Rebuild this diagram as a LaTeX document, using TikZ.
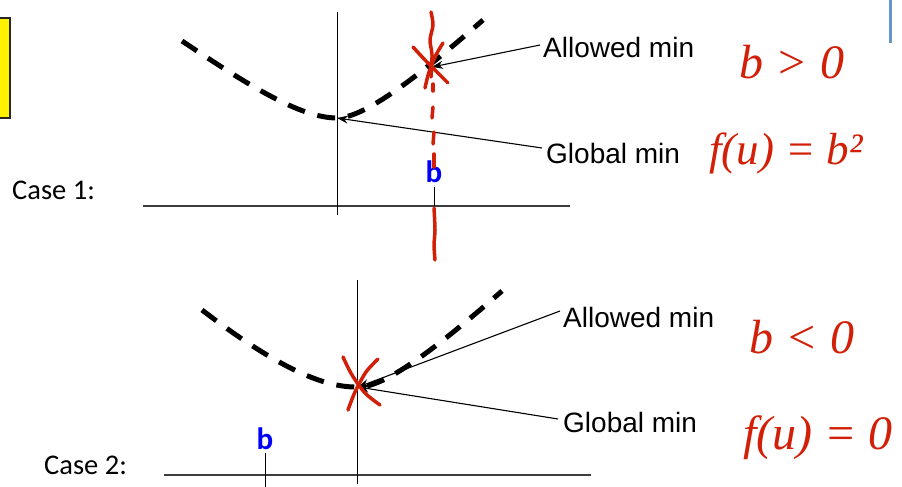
\documentclass[tikz,border=0pt]{standalone}
\usepackage{fontspec}
\setmainfont{Liberation Sans}
\newfontfamily\calib{Carlito}
\newfontfamily\inkfont{Liberation Serif}
\usetikzlibrary{arrows.meta}
\definecolor{inkred}{RGB}{210,32,8}
\definecolor{axisgray}{RGB}{60,60,60}
\definecolor{barblue}{RGB}{100,149,205}
\definecolor{bblue}{RGB}{0,0,250}
\tikzset{
  curvedash/.style={line width=5pt, dash pattern=on 18pt off 13pt, black},
  axisline/.style={line width=1.2pt, axisgray},
  lbl/.style={anchor=west, inner sep=0pt, font=\fontsize{28}{34}\selectfont},
  caselbl/.style={anchor=west, inner sep=0pt, font=\calib\fontsize{28.5}{34}\selectfont},
  blbl/.style={inner sep=0pt, text=bblue, font=\calib\bfseries\fontsize{31}{36}\selectfont},
  pointer/.style={line width=1.1pt, black, -{Stealth[length=11pt,width=8pt]}},
  inkstroke/.style={line width=3.5pt, inkred, line cap=round, line join=round},
  inktext/.style={inner sep=0pt, text=inkred, font=\inkfont\itshape\fontsize{48}{54}\selectfont},
}
\begin{document}
\begin{tikzpicture}[x=1pt,y=-1pt]
\useasboundingbox (0,0) rectangle (902,487);
% yellow box and blue bar
\draw[fill=yellow, line width=1.5pt, draw=black!85] (-3,18) rectangle (10,118);
\draw[line width=3pt, barblue] (890,0) -- (890,43);

% ---------------- Case 1 ----------------
\node[caselbl] (case1) at (12,190) {Case 1:};
\coordinate (h1a) at (143,206);
\coordinate (h1b) at (570,206);
\coordinate (v1a) at (337.5,12);
\coordinate (v1b) at (337.5,215);
\draw[axisline] (h1a) -- (h1b);
\draw[line width=1pt] (v1a) -- (v1b);
\coordinate (b1top) at (434,187);
\coordinate (b1bot) at (434,206);
\draw[line width=1pt] (b1top) -- (b1bot);
\node[blbl] (b1) at (434,172) {b};

\coordinate (c1s) at (182,41);
\coordinate (c1m) at (337,118);
\coordinate (c1e) at (483,20);
\coordinate (x1) at (432,67);
\draw[curvedash] (c1s) .. controls (248,85) and (300,118) .. (c1m)
                 .. controls (365,118) and (420,75) .. (c1e);

\node[lbl] (allow1) at (543,47) {Allowed min};
\node[lbl] (glob1) at (546,153) {Global min};
\draw[pointer] (allow1.west) ++(-3,-2) coordinate (a1s) (a1s) -- (x1);
\draw[pointer] (glob1.west) ++(-4,-5) coordinate (g1s) (g1s) -- (c1m);

% red ink case 1
\draw[inkstroke] plot[smooth] coordinates {(431,12) (433,25) (430,40) (432,55) (431,77)};
\draw[inkstroke] (433,84) -- (433,91);
\draw[inkstroke] (433,107) -- (432,118);
\draw[inkstroke] (434,132) -- (433,144);
\draw[inkstroke] (434,154) -- (434,167);
\draw[inkstroke] plot[smooth] coordinates {(434,208) (435,230) (434,245) (435,260)};
\draw[inkstroke] plot[smooth] coordinates {(413,47) (425,60) (437,72) (448,83)};
\draw[inkstroke] plot[smooth] coordinates {(443,43) (436,55) (429,72) (425,88)};
\node[inktext] (r1) at (792,62) {b > 0};
\node[inktext, font=\inkfont\itshape\fontsize{45}{52}\selectfont] (r2) at (786,153) {f(u) = b²};

% ---------------- Case 2 ----------------
\node[caselbl] (case2) at (44,465) {Case 2:};
\coordinate (h2a) at (164,475);
\coordinate (h2b) at (591,475);
\coordinate (v2a) at (357,280);
\coordinate (v2b) at (357,484);
\draw[axisline] (h2a) -- (h2b);
\draw[line width=1pt] (v2a) -- (v2b);
\coordinate (b2top) at (265,453);
\coordinate (b2bot) at (265,487);
\draw[line width=1pt] (b2top) -- (b2bot);
\node[blbl] (b2) at (265,439) {b};

\coordinate (c2s) at (202,310);
\coordinate (c2m) at (358,387);
\coordinate (c2e) at (502,291);
\draw[curvedash] (c2s) .. controls (270,362) and (320,388) .. (c2m)
                 .. controls (385,388) and (440,345) .. (c2e);

\node[lbl] (allow2) at (563,317) {Allowed min};
\node[lbl] (glob2) at (563,422) {Global min};
\draw[pointer] (allow2.west) ++(-3,-6) coordinate (a2s) (a2s) -- (c2m);
\draw[pointer] (glob2.west) ++(-5,-3) coordinate (g2s) (g2s) -- (c2m);

% red ink case 2
\draw[inkstroke] plot[smooth] coordinates {(343,357) (352,375) (365,393) (380,405)};
\draw[inkstroke] plot[smooth] coordinates {(378,359) (366,372) (355,392) (348,410)};
\node[inktext] (r3) at (802,337) {b < 0};
\node[inktext] (r4) at (818,438) {f(u) = 0};
\end{tikzpicture}
\end{document}
